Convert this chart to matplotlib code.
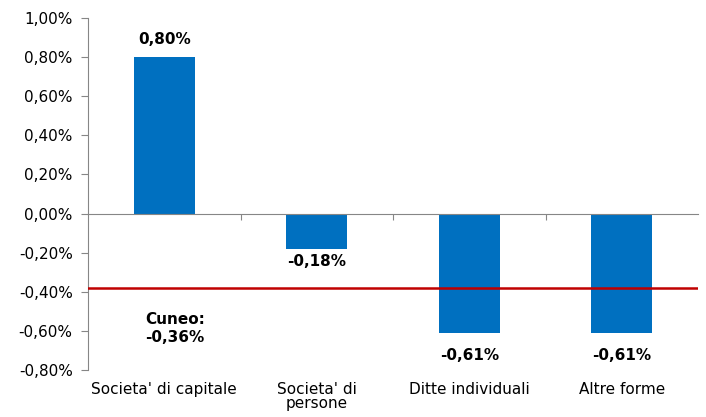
import numpy as np
import matplotlib
matplotlib.use('Agg')
import matplotlib.pyplot as plt
import matplotlib.transforms as mtransforms

categories = ["Societa' di capitale", "Societa' di\npersone", "Ditte individuali", "Altre forme"]
values = [0.80, -0.18, -0.61, -0.61]
bar_labels = ["0,80%", "-0,18%", "-0,61%", "-0,61%"]
cuneo_line = -0.38
cuneo_label = "Cuneo:\n-0,36%"
yticks = [-0.8, -0.6, -0.4, -0.2, 0.0, 0.2, 0.4, 0.6, 0.8, 1.0]

plt.rcParams['font.family'] = 'DejaVu Sans'
fs = 11

fig = plt.figure(figsize=(7.06, 4.17), dpi=100)
ax = fig.add_axes([88/706, 47/417, 610/706, 352/417])

x = np.arange(len(categories))
ax.bar(x, values, width=0.4, color='#0070C0', zorder=2)
ax.axhline(cuneo_line, color='#C00000', lw=1.8, zorder=3)

ax.set_xlim(-0.5, 3.5)
ax.set_ylim(-0.8, 1.0)
ax.set_yticks(yticks)
ax.set_yticklabels([('%.2f%%' % v).replace('.', ',') for v in yticks], fontsize=fs)
ax.tick_params(axis='y', direction='out', length=5, color='#868686', pad=6)

for s in ['top', 'right']:
    ax.spines[s].set_visible(False)
ax.spines['left'].set_color('#868686')
ax.spines['bottom'].set_position(('data', 0))
ax.spines['bottom'].set_color('#868686')
ax.set_xticks(x[:-1] + 0.5)
ax.set_xticklabels([])
ax.tick_params(axis='x', direction='out', length=4, color='#868686')

trans = mtransforms.blended_transform_factory(ax.transData, ax.transAxes)
for xi, c in zip(x, categories):
    ax.text(xi, -0.033, c, transform=trans, ha='center', va='top', fontsize=fs,
            linespacing=0.95)

for xi, v, lab in zip(x, values, bar_labels):
    if v >= 0:
        ax.text(xi, v + 0.09, lab, ha='center', va='center', fontsize=fs, fontweight='bold')
    else:
        off = 0.065 if v > -0.3 else 0.115
        ax.text(xi, v - off, lab, ha='center', va='center', fontsize=fs, fontweight='bold')

ax.text(0.07, -0.587, cuneo_label, ha='center', va='center', fontsize=fs, fontweight='bold',
        linespacing=1.3)

fig.savefig('out.png', dpi=100)
